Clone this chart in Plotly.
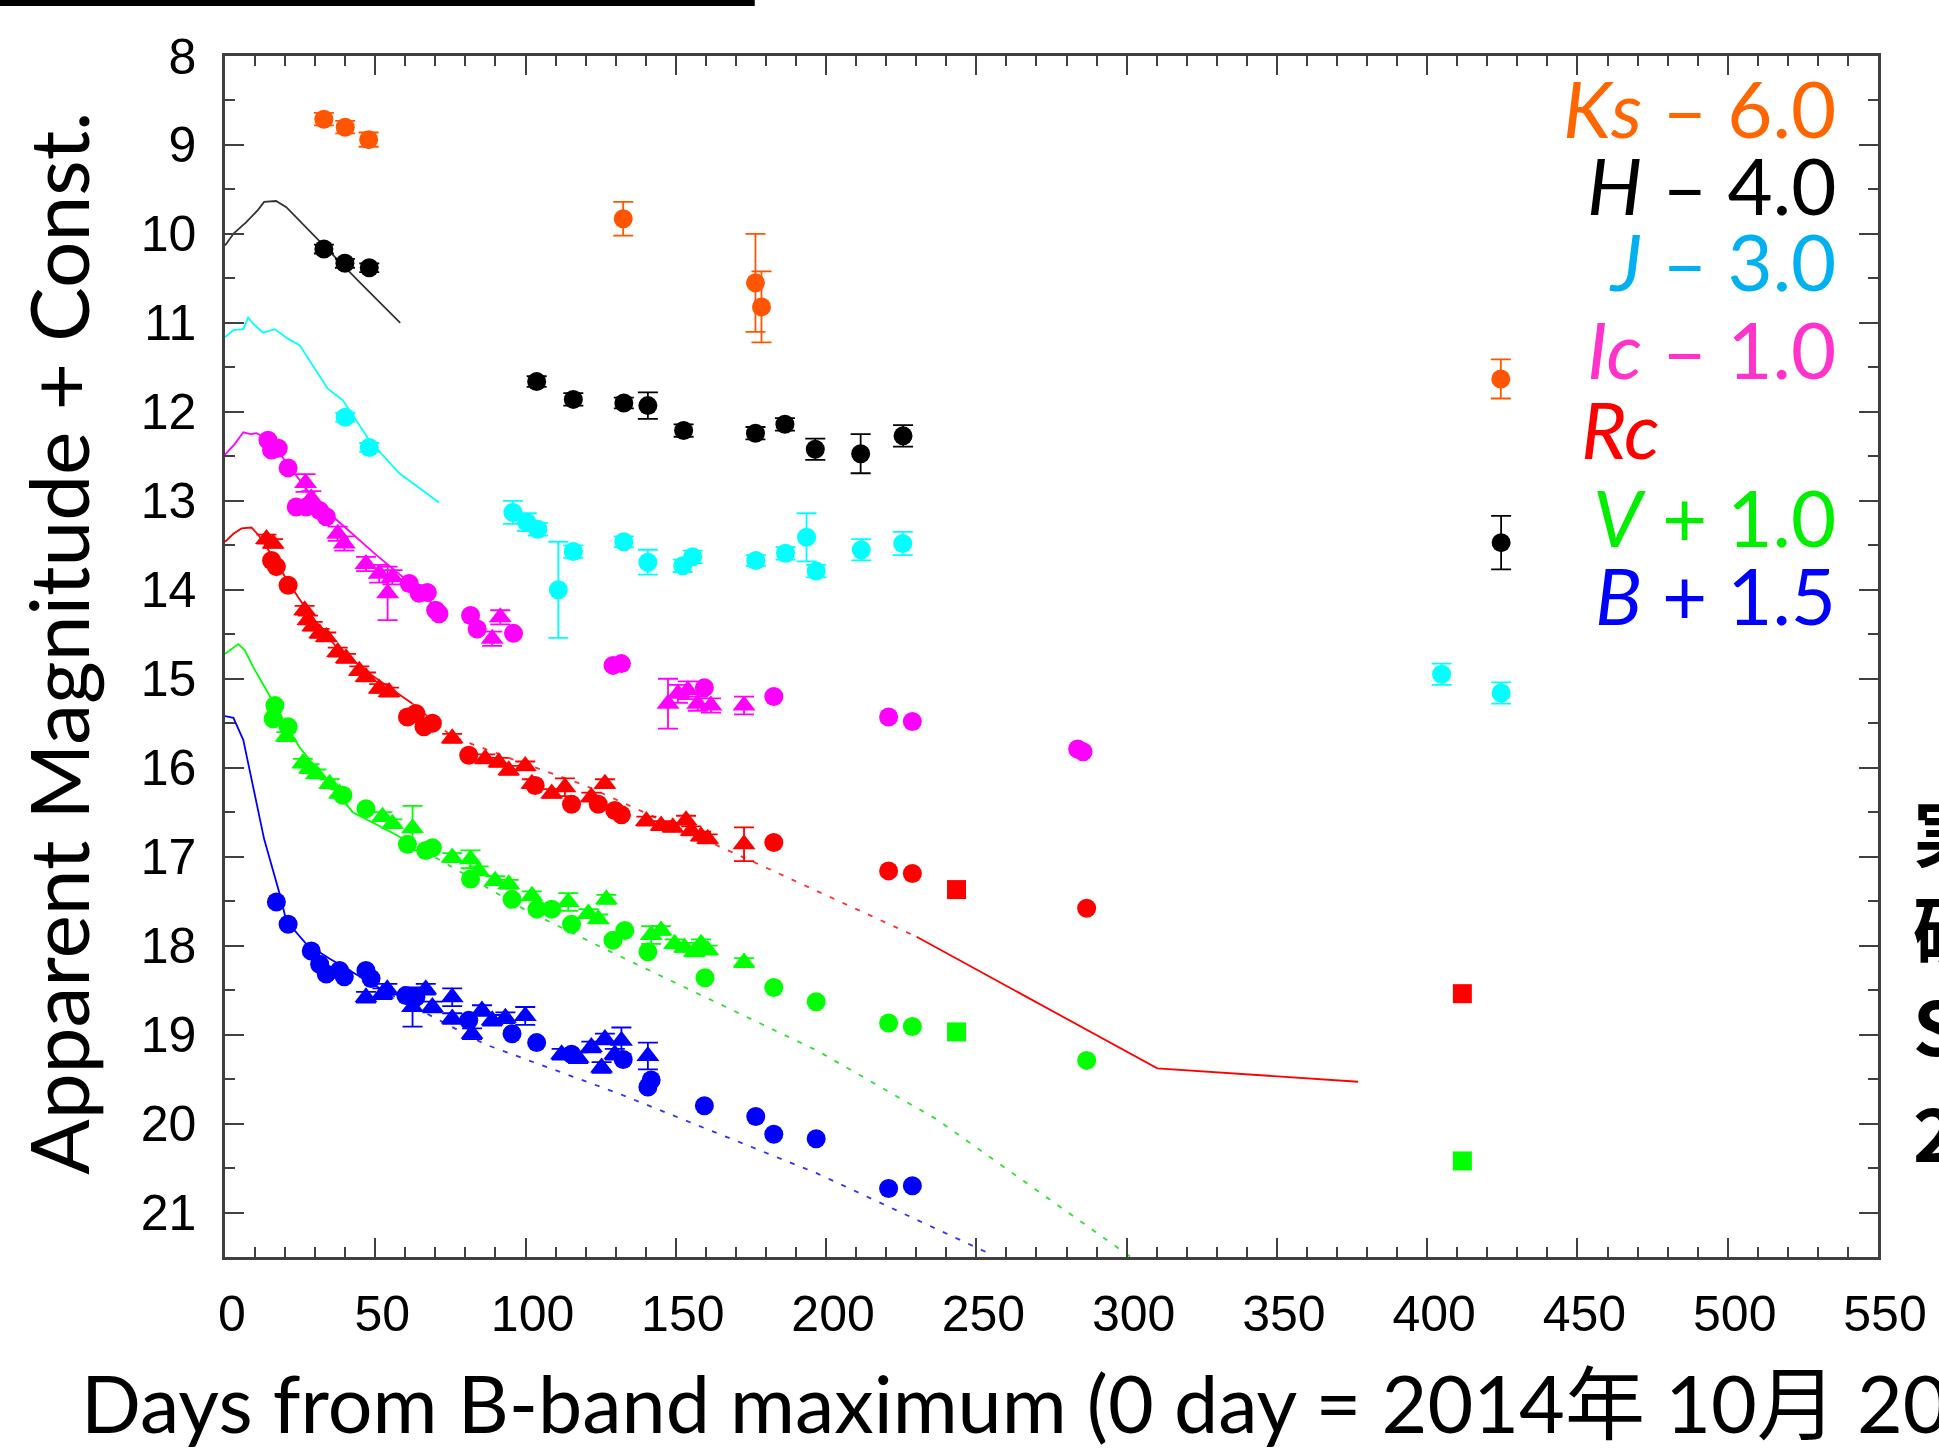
import plotly.graph_objects as go

# ---------------- data (plotted values, magnitude + const.) ----------------
ks_days = [32.9, 40.0, 47.8, 132.5, 176.5, 178.5, 424.5]
ks_mags = [8.71, 8.80, 8.94, 9.83, 10.55, 10.82, 11.63]
ks_errs = [0.07, 0.07, 0.08, 0.19, 0.55, 0.40, 0.22]

h_days = [32.9, 39.9, 48.0, 103.7, 115.9, 132.7, 140.7, 152.6, 176.5, 186.3, 196.4, 211.5, 225.6, 424.6]
h_mags = [10.17, 10.33, 10.38, 11.66, 11.86, 11.90, 11.93, 12.21, 12.24, 12.14, 12.42, 12.47, 12.27, 13.47]
h_errs = [0.05, 0.05, 0.05, 0.06, 0.07, 0.06, 0.15, 0.07, 0.07, 0.07, 0.12, 0.22, 0.12, 0.30]
h_tmpl_days = [0, 3, 7, 11, 13, 17, 20.4, 25, 35, 45, 58.3]
h_tmpl_mags = [10.13, 9.99, 9.87, 9.73, 9.64, 9.63, 9.70, 9.86, 10.21, 10.55, 11.0]

j_days = [40.0, 48.0, 95.8, 100.4, 104.1, 110.9, 115.9, 132.7, 140.7, 152.3, 155.6, 176.6, 186.5, 193.5, 196.7, 211.7, 225.5, 404.8, 424.6]
j_mags = [12.06, 12.40, 13.13, 13.24, 13.32, 14.00, 13.57, 13.46, 13.69, 13.73, 13.63, 13.67, 13.59, 13.41, 13.79, 13.55, 13.48, 14.95, 15.16]
j_errs = [0.05, 0.05, 0.13, 0.10, 0.07, 0.54, 0.07, 0.06, 0.14, 0.07, 0.07, 0.06, 0.07, 0.27, 0.07, 0.12, 0.13, 0.12, 0.12]
j_tmpl_days = [0, 2.8, 6.1, 7.7, 9.4, 12.7, 16.6, 21.0, 24.8, 34.2, 39.2, 48.0, 58.0, 71.2]
j_tmpl_mags = [11.16, 11.08, 11.07, 10.94, 11.01, 11.11, 11.07, 11.18, 11.25, 11.74, 11.87, 12.32, 12.69, 13.02]

ic_c_days = [14.3, 15.5, 17.7, 21.0, 23.7, 27.0, 31.5, 33.7, 61.3, 64.6, 67.3, 70.1, 71.2, 81.7, 83.9, 96.0, 129.1, 131.9, 159.5, 182.6, 220.8, 228.7, 283.7, 285.5]
ic_c_mags = [12.32, 12.43, 12.41, 12.63, 13.07, 13.07, 13.11, 13.18, 13.93, 14.04, 14.03, 14.23, 14.27, 14.29, 14.44, 14.49, 14.85, 14.83, 15.10, 15.20, 15.43, 15.48, 15.79, 15.82]
ic_t_days = [26.8, 28.7, 37.5, 39.7, 46.9, 51.3, 54.1, 55.7, 88.9, 91.6, 147.4, 150.7, 154.0, 157.3, 161.7, 172.7]
ic_t_mags = [12.80, 12.97, 13.37, 13.48, 13.71, 13.82, 14.04, 13.86, 14.55, 14.31, 15.28, 15.17, 15.13, 15.28, 15.30, 15.30]
ic_t_errs = [0.10, 0.08, 0.08, 0.08, 0.08, 0.10, 0.30, 0.08, 0.08, 0.08, 0.28, 0.10, 0.10, 0.08, 0.08, 0.10]
ic_tmpl_days = [0, 3.3, 6.1, 8.5, 10.5, 15, 20, 25, 30, 40, 50, 60, 72]
ic_tmpl_mags = [12.48, 12.36, 12.23, 12.25, 12.24, 12.32, 12.55, 12.78, 13.0, 13.3, 13.6, 13.88, 14.25]

rc_c_days = [15.5, 17.1, 21.0, 60.7, 63.5, 66.2, 69.0, 81.1, 103.2, 115.3, 124.2, 129.7, 131.9, 182.6, 220.8, 228.7, 286.7]
rc_c_mags = [13.67, 13.74, 13.95, 15.43, 15.39, 15.54, 15.50, 15.86, 16.20, 16.41, 16.41, 16.48, 16.53, 16.84, 17.16, 17.19, 17.58]
rc_t_days = [13.8, 16.0, 26.5, 27.6, 29.2, 31.5, 33.7, 37.5, 40.3, 44.7, 46.9, 51.3, 54.6, 75.6, 86.6, 91.1, 94.4, 99.9, 102.1, 108.7, 113.1, 121.9, 126.4, 140.2, 145.1, 149.0, 153.4, 155.1, 158.4, 160.6, 172.7]
rc_t_mags = [13.43, 13.48, 14.23, 14.34, 14.41, 14.49, 14.53, 14.70, 14.77, 14.91, 14.98, 15.11, 15.15, 15.67, 15.90, 15.94, 16.03, 15.98, 16.18, 16.29, 16.22, 16.33, 16.18, 16.60, 16.65, 16.67, 16.59, 16.71, 16.77, 16.80, 16.86]
rc_t_errs = [0.05] * 20 + [0.10] + [0.05] * 9 + [0.19]
rc_s_days = [243.4, 411.7]
rc_s_mags = [17.37, 18.54]
rc_tmpl_days = [0, 2.8, 5.5, 8.8, 11.0, 13.8, 19, 24.3, 30, 37, 48, 62.4]
rc_tmpl_mags = [13.46, 13.37, 13.31, 13.30, 13.38, 13.52, 13.80, 14.08, 14.36, 14.64, 14.94, 15.28]
rc_dash_days = [62.4, 75.6, 97.7, 119.8, 177.2, 230.1]
rc_dash_mags = [15.28, 15.65, 15.93, 16.20, 17.08, 17.90]
rc_late_days = [230.1, 310.2, 377.0]
rc_late_mags = [17.90, 19.38, 19.53]

v_c_days = [16.0, 16.6, 21.0, 39.2, 46.9, 60.7, 66.8, 69.0, 81.7, 95.5, 103.8, 108.7, 115.3, 129.1, 133.0, 140.7, 159.7, 182.6, 196.7, 220.8, 228.7, 286.7]
v_c_mags = [15.45, 15.30, 15.54, 16.31, 16.46, 16.86, 16.93, 16.90, 17.25, 17.48, 17.59, 17.59, 17.76, 17.94, 17.83, 18.07, 18.36, 18.47, 18.63, 18.87, 18.91, 19.29]
v_t_days = [20.4, 25.9, 28.1, 30.4, 34.8, 38.1, 52.4, 55.7, 62.4, 75.6, 81.7, 84.4, 89.9, 94.4, 102.1, 114.2, 120.9, 124.2, 126.9, 141.8, 145.1, 149.6, 152.9, 156.2, 158.4, 160.6, 172.7]
v_t_mags = [15.65, 15.95, 16.01, 16.07, 16.18, 16.29, 16.55, 16.63, 16.68, 17.01, 17.03, 17.16, 17.27, 17.31, 17.44, 17.51, 17.64, 17.70, 17.48, 17.88, 17.83, 17.98, 18.02, 18.07, 17.98, 18.05, 18.19]
v_t_errs = [0.05] * 8 + [0.25, 0.05, 0.10] + [0.05] * 4 + [0.10] + [0.05] * 3 + [0.10] + [0.05] * 7
v_s_days = [243.4, 411.7]
v_s_mags = [18.97, 20.42]
v_tmpl_days = [0, 4.4, 6.6, 9.4, 15, 20, 25, 30.4, 42.5, 55, 62]
v_tmpl_mags = [14.72, 14.61, 14.68, 14.87, 15.20, 15.50, 15.78, 16.00, 16.50, 16.72, 16.85]
v_dash_days = [62, 100, 130.8, 197, 236.7, 301.4]
v_dash_mags = [16.85, 17.60, 18.11, 19.18, 19.95, 21.5]

b_c_days = [17.1, 21.0, 28.7, 31.5, 33.7, 38.1, 39.7, 46.9, 48.6, 60.2, 63.5, 81.1, 95.5, 103.7, 115.3, 132.5, 140.7, 141.8, 159.5, 176.6, 182.6, 196.7, 220.8, 228.7]
b_c_mags = [17.51, 17.76, 18.06, 18.21, 18.32, 18.28, 18.35, 18.28, 18.37, 18.56, 18.58, 18.84, 18.99, 19.09, 19.22, 19.28, 19.59, 19.51, 19.80, 19.92, 20.12, 20.17, 20.73, 20.70]
b_t_days = [46.9, 52.4, 54.0, 62.4, 66.8, 69.0, 75.6, 75.6, 82.2, 85.5, 88.9, 93.3, 99.9, 112.0, 117.5, 121.9, 125.3, 126.4, 129.7, 131.9, 140.7]
b_t_mags = [18.58, 18.54, 18.49, 18.69, 18.49, 18.69, 18.58, 18.82, 18.99, 18.73, 18.84, 18.81, 18.79, 19.22, 19.26, 19.14, 19.37, 19.05, 19.22, 19.07, 19.24]
b_t_errs = [0.06, 0.06, 0.06, 0.22, 0.06, 0.06, 0.10, 0.06, 0.06, 0.06, 0.06, 0.06, 0.10, 0.06, 0.06, 0.06, 0.06, 0.06, 0.06, 0.15, 0.15]
b_tmpl_days = [0, 2.8, 6.1, 8.8, 13, 18.2, 20.4, 27, 35, 45, 55]
b_tmpl_mags = [15.42, 15.44, 15.69, 16.14, 16.80, 17.42, 17.72, 17.98, 18.15, 18.35, 18.55]
b_dash_days = [55, 86.6, 130.8, 197, 255.5]
b_dash_mags = [18.55, 19.11, 19.66, 20.56, 21.48]

x_ticks = [0, 50, 100, 150, 200, 250, 300, 350, 400, 450, 500, 550]
y_ticks = list(range(8, 22))

band_labels = ["<i>Ks</i> – 6.0", "<i>H</i> – 4.0", "<i>J</i> – 3.0", "<i>Ic</i> – 1.0",
               "<i>Rc</i>", "<i>V</i> + 1.0", "<i>B</i> + 1.5"]
band_label_colors = ["#FF6600", "#000000", "#00B0F0", "#FF33CC", "#FF0000", "#00EE00", "#0000FF"]

# ---------------- layout geometry (pixels) ----------------
W, H = 1939, 1449
L, R, T, B = 225, 54, 56, 192
PW, PH = W - L - R, H - T - B


def px(p):
    return (p - L) / PW


def py(p):
    return (H - B - p) / PH


fig = go.Figure()


def line(x, y, color, dash=None, width=1.8):
    fig.add_trace(go.Scatter(x=x, y=y, mode="lines",
                             line=dict(color=color, width=width, dash=dash),
                             hoverinfo="skip", showlegend=False))


def pts(x, y, color, symbol="circle", err=None, size=19):
    kw = {}
    if err is not None:
        kw["error_y"] = dict(type="data", array=err, visible=True,
                             color=color, thickness=1.8, width=10)
    fig.add_trace(go.Scatter(x=x, y=y, mode="markers",
                             marker=dict(symbol=symbol, size=size, color=color,
                                         line=dict(width=0)),
                             showlegend=False, **kw))


DASH = "5px,9px"
# template lines
line(h_tmpl_days, h_tmpl_mags, "#333333")
line(j_tmpl_days, j_tmpl_mags, "#00FFFF")
line(ic_tmpl_days, ic_tmpl_mags, "#FF00FF")
line(rc_tmpl_days, rc_tmpl_mags, "#FF0000")
line(rc_dash_days, rc_dash_mags, "#FF3030", dash=DASH)
line(rc_late_days, rc_late_mags, "#FF0000")
line(v_tmpl_days, v_tmpl_mags, "#00FF00")
line(v_dash_days, v_dash_mags, "#30E030", dash=DASH)
line(b_tmpl_days, b_tmpl_mags, "#0000FF")
line(b_dash_days, b_dash_mags, "#3030FF", dash=DASH)

# data points
pts(ks_days, ks_mags, "#FF5500", err=ks_errs)
pts(h_days, h_mags, "#000000", err=h_errs)
pts(j_days, j_mags, "#00FFFF", err=j_errs)
pts(ic_c_days, ic_c_mags, "#FF00FF")
pts(ic_t_days, ic_t_mags, "#FF00FF", symbol="triangle-up", err=ic_t_errs, size=20)
pts(rc_c_days, rc_c_mags, "#FF0000")
pts(rc_t_days, rc_t_mags, "#FF0000", symbol="triangle-up", err=rc_t_errs, size=20)
pts(rc_s_days, rc_s_mags, "#FF0000", symbol="square", size=19)
pts(v_c_days, v_c_mags, "#00FF00")
pts(v_t_days, v_t_mags, "#00FF00", symbol="triangle-up", err=v_t_errs, size=20)
pts(v_s_days, v_s_mags, "#00FF00", symbol="square", size=19)
pts(b_c_days, b_c_mags, "#0000FF")
pts(b_t_days, b_t_mags, "#0000FF", symbol="triangle-up", err=b_t_errs, size=20)

axis_common = dict(
    showline=True, linecolor="#404040", linewidth=2.5, mirror="allticks",
    ticks="inside", ticklen=19, tickwidth=2, tickcolor="#404040",
    showgrid=False, zeroline=False,
    tickfont=dict(family="Liberation Sans, Arial, sans-serif", size=50, color="#000000"),
)

fig.update_xaxes(range=[0, 550], tickvals=x_ticks, ticktext=[str(v) for v in x_ticks],
                 minor=dict(ticks="inside", ticklen=10, tickwidth=2, tickcolor="#404040", dtick=10,
                            tick0=0, showgrid=False),
                 ticklabelstandoff=11, ticklabelshift=7, **axis_common)
fig.update_yaxes(range=[21.5, 8], tickvals=y_ticks, ticktext=[str(v) for v in y_ticks],
                 minor=dict(ticks="inside", ticklen=10, tickwidth=2, tickcolor="#404040", dtick=0.5,
                            tick0=8, showgrid=False),
                 ticklabelstandoff=16, **axis_common)

TXT = "Lato, 'Noto Sans CJK JP', sans-serif"
CJK = "<span style='font-size:80px'>{}</span>"
ann = []
# axis titles
ann.append(dict(text="Apparent Magnitude + Const.", xref="paper", yref="paper",
                x=px(56), y=py(643), xanchor="center", yanchor="middle", textangle=-90,
                showarrow=False, font=dict(family=TXT, size=82, color="#000000")))
ann.append(dict(text="Days from B-band maximum (0 day = 2014" + CJK.format("年") + " 10" + CJK.format("月")
                + " 20" + CJK.format("日") + ")",
                xref="paper", yref="paper",
                x=px(78), y=py(1402), xanchor="left", yanchor="middle",
                showarrow=False, font=dict(family=TXT, size=79, color="#000000")))
# band labels
label_y = [108, 185, 261, 349, 429, 517, 595]
for i, (t, c) in enumerate(zip(band_labels, band_label_colors)):
    if i == 4:
        ann.append(dict(text=t, xref="paper", yref="paper", x=px(1585), y=py(label_y[i]),
                        xanchor="left", yanchor="middle", showarrow=False,
                        font=dict(family=TXT, size=78, color=c)))
    else:
        ann.append(dict(text=t, xref="paper", yref="paper", x=px(1845), y=py(label_y[i]),
                        xanchor="right", yanchor="middle", showarrow=False,
                        font=dict(family=TXT, size=78, color=c)))
# text cut off at the right edge of the slide
side_lines = ["<b>実線</b>", "<b>破線</b>", "<b>SN</b>", "<b>2011</b>"]
side_y = [828, 926, 1023, 1129]
for t, yy in zip(side_lines, side_y):
    ann.append(dict(text=t, xref="paper", yref="paper", x=px(1918), y=py(yy),
                    xanchor="left", yanchor="middle", showarrow=False,
                    font=dict(family="'Noto Sans CJK JP', sans-serif", size=74, color="#000000")))

shapes = [dict(type="rect", xref="paper", yref="paper", x0=px(-5), x1=px(757),
               y0=py(6), y1=py(-5), fillcolor="#000000", line=dict(width=0))]

fig.update_layout(width=W, height=H, margin=dict(l=L, r=R, t=T, b=B, pad=0),
                  paper_bgcolor="white", plot_bgcolor="white",
                  showlegend=False, annotations=ann, shapes=shapes)

fig.write_html("out.html", config={"displayModeBar": False},
               post_script="document.body.style.margin='0';")
